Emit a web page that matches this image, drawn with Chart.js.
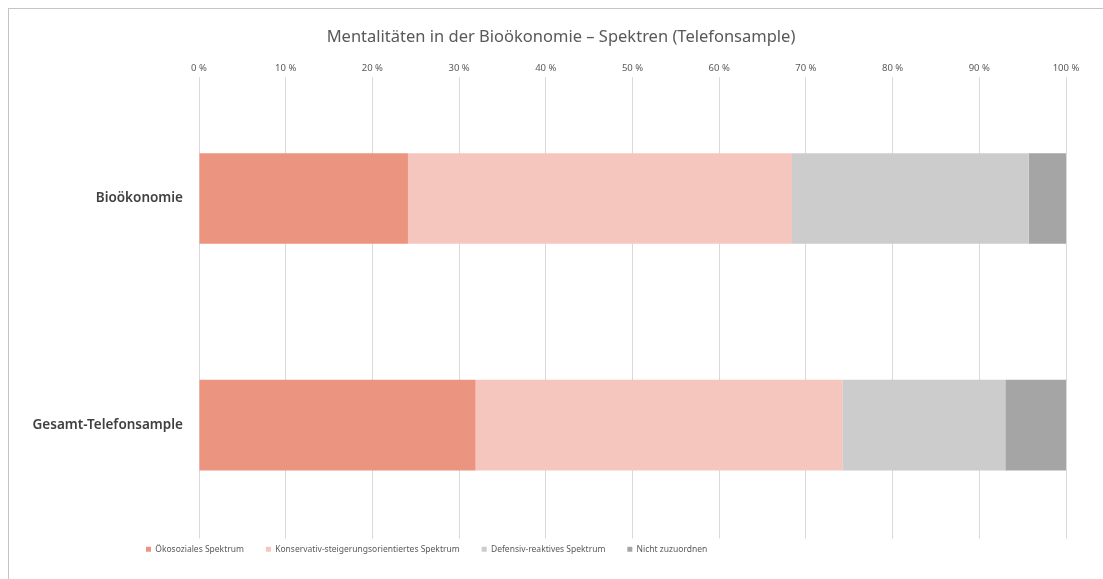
<!DOCTYPE html>
<html>
<head>
<meta charset="utf-8">
<script src="https://cdn.jsdelivr.net/npm/chart.js@4"></script>
<style>
  html, body { margin: 0; padding: 0; background: #fff; overflow: hidden; }
  #frame { position: absolute; left: 8px; top: 8px; width: 1110px; height: 590px; border: 1px solid #c4c4c4; }
  #wrap { position: absolute; left: 0; top: 0; width: 1103px; height: 579px; }
</style>
</head>
<body>
<div id="frame"></div>
<div id="wrap"><canvas id="chart"></canvas></div>
<script>
const categories = ['Bioökonomie', 'Gesamt-Telefonsample'];
const seriesNames = [
  'Ökosoziales Spektrum',
  'Konservativ-steigerungsorientiertes Spektrum',
  'Defensiv-reaktives Spektrum',
  'Nicht zuzuordnen'
];
const oekosozial = [24.1, 31.9];
const konservativ = [44.3, 42.3];
const defensiv = [27.3, 18.8];
const nichtZuzuordnen = [4.3, 7.0];
const colors = ['#EB9480', '#F5C6BE', '#CCCCCC', '#A5A5A5'];

const FONT = "'Noto Sans', sans-serif";

// put the legend and title where the original sits
const blockShift = {
  id: 'blockShift',
  afterLayout(chart) {
    chart.legend.left = 124;
    chart.legend.top = 523;
    chart.titleBlock.left = 56;
  }
};

const ctx = document.getElementById('chart').getContext('2d');
new Chart(ctx, {
  type: 'bar',
  data: {
    labels: categories,
    datasets: [oekosozial, konservativ, defensiv, nichtZuzuordnen].map((d, i) => ({
      label: seriesNames[i],
      data: d,
      backgroundColor: colors[i],
      borderWidth: 0,
      barPercentage: 0.4,
      categoryPercentage: 1
    }))
  },
  options: {
    indexAxis: 'y',
    responsive: true,
    maintainAspectRatio: false,
    animation: false,
    layout: { padding: { left: 0, right: 37, top: 22, bottom: 0 } },
    plugins: {
      title: {
        display: true,
        text: 'Mentalitäten in der Bioökonomie – Spektren (Telefonsample)',
        color: '#595959',
        font: { family: FONT, size: 16.5, weight: 'normal' },
        padding: { top: 5, bottom: 13 }
      },
      legend: {
        position: 'bottom',
        align: 'start',
        labels: {
          color: '#595959',
          font: { family: FONT, size: 8.5 },
          boxWidth: 5,
          boxHeight: 5,
          padding: 22
        }
      },
      tooltip: { enabled: false }
    },
    scales: {
      x: {
        position: 'top',
        stacked: true,
        min: 0,
        max: 100,
        ticks: {
          stepSize: 10,
          color: '#595959',
          font: { family: FONT, size: 9.5 },
          padding: 3,
          callback: v => v + ' %'
        },
        grid: { color: '#D9D9D9', tickLength: 8 },
        border: { display: false }
      },
      y: {
        stacked: true,
        ticks: {
          color: '#404040',
          font: { family: FONT, size: 13.5, weight: '600' },
          padding: 16
        },
        grid: { display: false, drawTicks: false },
        border: { display: false },
        afterFit(scale) { scale.width = 199; }
      }
    }
  },
  plugins: [blockShift]
});
</script>
</body>
</html>
